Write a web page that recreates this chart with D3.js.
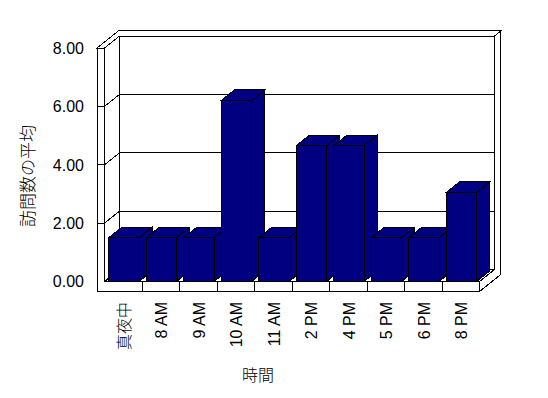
<!DOCTYPE html>
<html>
<head>
<meta charset="utf-8">
<script src="https://cdn.jsdelivr.net/npm/d3@7"></script>
<style>
  body { margin: 0; background: #fff; }
  text { fill: #000; }
</style>
</head>
<body>
<script>
// data
var hours = ["真夜中", "8 AM", "9 AM", "10 AM", "11 AM", "2 PM", "4 PM", "5 PM", "6 PM", "8 PM"];
var visits = [1.5, 1.5, 1.5, 6.2, 1.5, 4.65, 4.65, 1.5, 1.5, 3.05];
var yTicks = [0, 2, 4, 6, 8];
var yTickLabels = ["0.00", "2.00", "4.00", "6.00", "8.00"];

var W = 548, H = 398;

// 3d box: front plane + depth offset
var DX = 15, DY = -12;      // offset of the back wall (z = 1)
var zOut = 1.43;            // outside of back wall
var zBar = 0.89;            // bar depth
var wallOut = 97;           // left wall outer edge
var floorBot = 291.5;       // bottom of floor slab

let x = d3.scaleBand().domain(hours).range([104.5, 479.5]);
let y = d3.scaleLinear().domain([0, 8]).range([281.5, 48]);

var xl = x.range()[0], xr = x.range()[1];
var yb = y(0), yt = y(8);

function P(px, py, z) { return [px + z * DX, py + z * DY]; }

let svg = d3.select('body')
    .append('svg')
    .attr('width', W)
    .attr('height', H)
    .style('font-family', 'Arial, "Liberation Sans", "Noto Sans CJK JP", sans-serif');

svg.append('rect').attr('width', W).attr('height', H).attr('fill', '#fff');

let g = svg.append('g')
    .attr('shape-rendering', 'crispEdges')
    .attr('stroke', '#000')
    .attr('stroke-width', 1);

function poly(pts, fill) {
    g.append('polygon')
     .attr('points', pts.map(p => p.join(',')).join(' '))
     .attr('fill', fill)
     .attr('stroke-linejoin', 'miter');
}
function line(a, b) {
    g.append('line')
     .attr('x1', a[0]).attr('y1', a[1])
     .attr('x2', b[0]).attr('y2', b[1]);
}

// inner faces: back wall, left wall, floor
poly([P(xl, yt, 1), P(xr, yt, 1), P(xr, yb, 1), P(xl, yb, 1)], '#fff');
poly([P(xl, yt, 0), P(xl, yt, 1), P(xl, yb, 1), P(xl, yb, 0)], '#fff');
poly([P(xl, yb, 0), P(xr, yb, 0), P(xr, yb, 1), P(xl, yb, 1)], '#fff');

// gridlines
yTicks.filter(v => v > 0 && v < 8).forEach(v => {
    line(P(xl, y(v), 0), P(xl, y(v), 1));
    line(P(xl, y(v), 1), P(xr, y(v), 1));
});

// outer faces (front, top, right side)
poly([P(wallOut, yt, 0), P(xl, yt, 0), P(xl, yb, 0), P(xr, yb, 0), P(xr, floorBot, 0), P(wallOut, floorBot, 0)], '#fff');
poly([P(wallOut, yt, 0), P(xl, yt, 0), P(xl, yt, 1), P(xr, yt, 1), P(xr, yt, zOut), P(wallOut, yt, zOut)], '#fff');
poly([P(xr, yb, 0), P(xr, yb, 1), P(xr, yt, 1), P(xr, yt, zOut), P(xr, floorBot, zOut), P(xr, floorBot, 0)], '#fff');

// ticks on the front faces
yTicks.filter(v => v > 0 && v < 8).forEach(v => {
    line(P(wallOut, y(v), 0), P(xl, y(v), 0));
});
hours.slice(1).forEach(h => {
    line(P(x(h), yb, 0), P(x(h), floorBot, 0));
});

// bars, left to right so each front hides the previous side
var barW = x.bandwidth() * 0.81;
var barOff = (x.bandwidth() - barW) / 2 + 0.6;
var navy = '#000080';

hours.forEach((h, i) => {
    var x0 = x(h) + barOff, x1 = x0 + barW;
    var yv = y(visits[i]);
    poly([P(x1, yv, 0), P(x1, yv, zBar), P(x1, yb, zBar), P(x1, yb, 0)], navy);
    poly([P(x0, yv, 0), P(x1, yv, 0), P(x1, yv, zBar), P(x0, yv, zBar)], navy);
    poly([P(x0, yv, 0), P(x1, yv, 0), P(x1, yb, 0), P(x0, yb, 0)], navy);
});

// y tick labels
svg.selectAll('.ylab')
   .data(yTicks)
   .enter()
   .append('text')
   .attr('class', 'ylab')
   .attr('x', 84)
   .attr('y', v => y(v))
   .attr('dy', '0.36em')
   .attr('text-anchor', 'end')
   .style('font-size', '16px')
   .text((v, i) => yTickLabels[i]);

// x labels, rotated
svg.selectAll('.xlab')
   .data(hours)
   .enter()
   .append('text')
   .attr('class', 'xlab')
   .attr('transform', h => `translate(${x(h) + x.bandwidth() / 2 + 0.5},302) rotate(-90)`)
   .attr('dy', '0.36em')
   .attr('text-anchor', 'end')
   .style('font-size', '16px')
   .style('font-weight', 300)
   .text(h => h);

// axis titles
svg.append('text')
   .attr('transform', 'translate(28,176) rotate(-90)')
   .attr('dy', '0.36em')
   .attr('text-anchor', 'middle')
   .style('font-family', '"Noto Sans CJK JP", sans-serif')
   .style('font-weight', 300)
   .style('font-size', '17px')
   .text('訪問数の平均');

svg.append('text')
   .attr('x', 258)
   .attr('y', 375)
   .attr('dy', '0.36em')
   .attr('text-anchor', 'middle')
   .style('font-family', '"Noto Sans CJK JP", sans-serif')
   .style('font-weight', 300)
   .style('font-size', '16px')
   .text('時間');
</script>
</body>
</html>
